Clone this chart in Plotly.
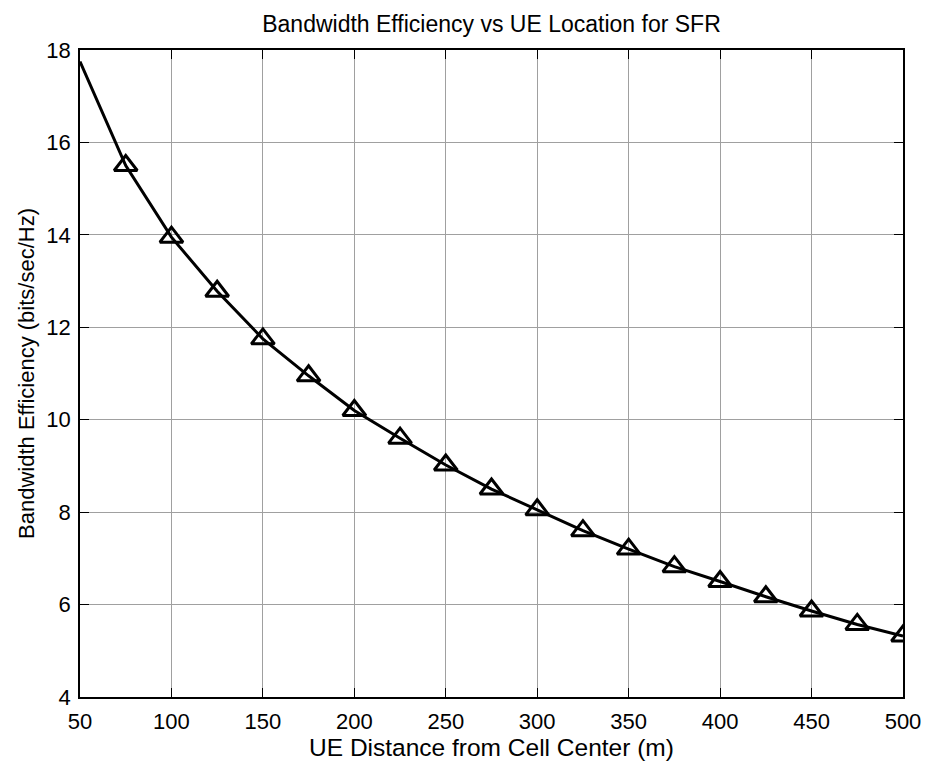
import plotly.graph_objects as go

distance = [50, 75, 100, 125, 150, 175, 200, 225, 250, 275, 300, 325, 350, 375, 400, 425, 450, 475, 500]
efficiency = [17.75, 15.5, 13.95, 12.78, 11.75, 10.95, 10.2, 9.6, 9.02, 8.5, 8.05, 7.6, 7.2, 6.82, 6.5, 6.17, 5.86, 5.57, 5.32]
x_ticks = [50, 100, 150, 200, 250, 300, 350, 400, 450, 500]
y_ticks = [4, 6, 8, 10, 12, 14, 16, 18]

font = "Liberation Sans, Arial, sans-serif"

fig = go.Figure()
fig.add_trace(go.Scatter(x=distance, y=efficiency, mode="lines",
                         line=dict(color="black", width=3), showlegend=False))
fig.add_trace(go.Scatter(x=distance[1:], y=efficiency[1:], mode="markers",
                         marker=dict(symbol="triangle-up-open", size=20, color="black",
                                     line=dict(width=3, color="black")),
                         showlegend=False))

axis_common = dict(showgrid=True, gridcolor="#a0a0a0", gridwidth=1,
                   showline=True, linecolor="black", linewidth=1.5, mirror="ticks",
                   ticks="inside", ticklen=9, tickcolor="black", zeroline=False,
                   automargin=False,
                   tickfont=dict(family=font, size=22, color="black"))

fig.update_xaxes(range=[50, 500], tickvals=x_ticks, ticklabelstandoff=4,
                 title=dict(text="UE Distance from Cell Center (m)", font=dict(family=font, size=24.5, color="black"), standoff=6),
                 **axis_common)
fig.update_yaxes(range=[4, 18], tickvals=y_ticks, ticklabelstandoff=3,
                 title=dict(text="Bandwidth Efficiency (bits/sec/Hz)", font=dict(family=font, size=22, color="black"), standoff=6),
                 **axis_common)

fig.update_layout(
    width=926, height=764,
    margin=dict(l=80, r=23, t=50, b=67),
    paper_bgcolor="white", plot_bgcolor="white",
    title=dict(text="Bandwidth Efficiency vs UE Location for SFR", x=0.5, xanchor="center",
               xref="paper", y=1 - 24/764, yanchor="middle",
               font=dict(family=font, size=23, color="black")),
)

fig.write_html("out.html")
